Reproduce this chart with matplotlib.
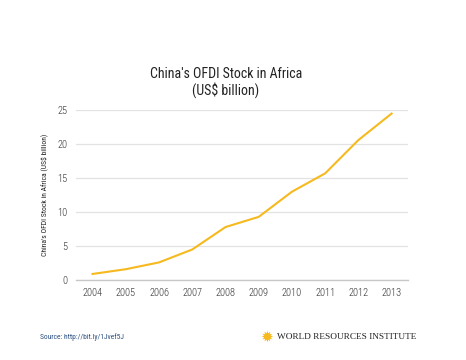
import matplotlib
matplotlib.use("Agg")
import matplotlib.pyplot as plt
from matplotlib import font_manager

years = ["2004", "2005", "2006", "2007", "2008", "2009", "2010", "2011", "2012", "2013"]
stock = [0.9, 1.6, 2.6, 4.5, 7.8, 9.3, 13.0, 15.7, 20.6, 24.5]
y_ticks = [0, 5, 10, 15, 20, 25]

# pick a condensed face, the reference uses one
names = {f.name for f in font_manager.fontManager.ttflist}
cond = "DejaVu Sans"
for cand in ["Roboto Condensed", "Liberation Sans Narrow", "Archivo Narrow", "Barlow Condensed"]:
    if cand in names:
        cond = cand
        break
plt.rcParams["font.family"] = [cond, "DejaVu Sans"]

fig = plt.figure(figsize=(4.66, 3.6), dpi=100)
ax = fig.add_axes([0.163, 0.222, 0.713, 0.472])

x = list(range(len(years)))
ax.plot(x, stock, color="#f6b91e", linewidth=1.5, solid_joinstyle="round")

ax.set_xlim(-0.5, len(years) - 0.5)
ax.set_ylim(0, 25)
ax.set_xticks(x)
ax.set_xticklabels(years, fontsize=7.5, color="#333333", fontweight="light")
ax.set_yticks(y_ticks)
ax.set_yticklabels([str(v) for v in y_ticks], fontsize=7.5, color="#333333",
                   fontweight="light")
ax.tick_params(length=0, pad=6)
ax.grid(axis="y", color="#e2e2e2", linewidth=0.9)
ax.set_axisbelow(True)
for s in ["top", "right", "left"]:
    ax.spines[s].set_visible(False)
ax.spines["bottom"].set_color("#c8c8c8")
ax.spines["bottom"].set_linewidth(1.0)

ax.set_ylabel("China's OFDI Stock in Africa (US$ billion)", fontsize=5.5,
              color="#222222", labelpad=6)

fig.text(0.485, 0.77, "China's OFDI Stock in Africa\n(US$ billion)", ha="center",
         va="center", fontsize=10, color="#222222", linespacing=1.1)

fig.text(0.086, 0.063, "Source: http://bit.ly/1Jvef5J", fontsize=5.4,
         color="#2c4f80", va="center")

# logo
fig.text(0.573, 0.063, "\u2739", fontsize=11, color="#f6b91e", ha="center",
         va="center", family="DejaVu Sans")
fig.text(0.595, 0.063, "WORLD RESOURCES INSTITUTE", fontsize=6.7,
         color="#222222", va="center", family="Liberation Serif")

fig.savefig("out.png", dpi=100, facecolor="white")
